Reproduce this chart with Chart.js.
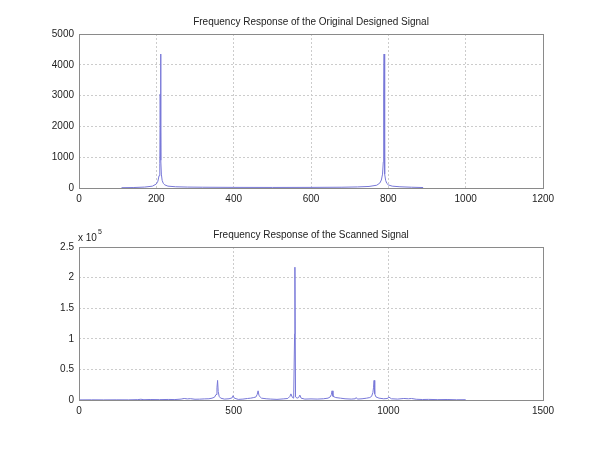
<!DOCTYPE html>
<html>
<head>
<meta charset="utf-8">
<script src="https://cdn.jsdelivr.net/npm/chart.js@4"></script>
<style>
  body { margin: 0; background: #fff; }
  canvas { position: absolute; left: 0; }
</style>
</head>
<body>
<canvas id="chart-original" width="600" height="215" style="top:0"></canvas>
<canvas id="chart-scanned" width="600" height="235" style="top:215px"></canvas>
<script>
// Original designed signal (frequency, magnitude)
const origFreq = [110, 140, 170, 190, 200, 204, 207, 209, 210, 211, 212, 213, 215, 218, 222, 230, 250, 280, 320, 400, 500, 600,
  680, 720, 750, 770, 778, 782, 785, 787, 788, 789, 790, 791, 793, 796, 800, 810, 830, 860, 890];
const origMag = [10, 15, 30, 60, 130, 220, 400, 800, 3050, 4350, 900, 450, 250, 150, 100, 60, 40, 30, 25, 20, 18, 20,
  25, 35, 50, 90, 160, 260, 450, 850, 3050, 4350, 900, 450, 250, 150, 100, 60, 40, 25, 15];

// Scanned signal (frequency, magnitude)
const scanFreq = [0, 40, 80, 120, 160, 190, 200, 210, 230, 260, 290, 310, 330, 340, 350, 360, 375, 390, 405, 420, 430, 438,
  443, 446, 448, 450, 453, 458, 470, 485, 495, 498, 502, 515, 530, 545, 555, 565, 572, 576, 579, 582, 590, 605, 620, 640,
  660, 675, 682, 685, 690, 694, 697, 698, 700, 705, 710, 714, 718, 730, 750, 770, 790, 805, 812, 816, 818, 821, 830, 845,
  860, 880, 893, 896, 900, 915, 930, 940, 946, 950, 952, 954, 956, 960, 970, 985, 998, 1001, 1010, 1030, 1050, 1065, 1075,
  1090, 1110, 1130, 1160, 1190, 1220, 1250];
const scanMag = [200, 300, 200, 300, 250, 600, 1200, 500, 800, 600, 900, 700, 1500, 2500, 1800, 2200, 1200, 1400, 1800, 2000, 3000, 4500,
  9000, 20000, 32000, 14000, 6000, 3000, 1500, 2000, 3500, 7000, 3000, 1000, 1500, 2500, 3000, 4000, 5000, 9000, 15000, 7000, 3000, 2000, 1500, 1000,
  1800, 2500, 6000, 10000, 4000, 3000, 108000, 217000, 5000, 3000, 4000, 8000, 3000, 1500, 1800, 1500, 2000, 3000, 5000, 9000, 15000, 6000, 4000, 3000,
  2000, 1500, 2000, 4000, 1500, 2000, 3000, 4000, 6000, 12000, 20000, 32000, 10000, 5000, 3000, 2000, 2500, 5000, 2000, 1500, 2500, 2000, 2500,
  1200, 800, 1000, 600, 800, 400, 500];

const origXTicks = [0, 200, 400, 600, 800, 1000, 1200];
const origYTicks = [0, 1000, 2000, 3000, 4000, 5000];
const scanXTicks = [0, 500, 1000, 1500];
const scanYTicks = [0, 50000, 100000, 150000, 200000, 250000];

const lineColor = '#7878d8';
const textColor = '#222';
const fontFamily = '"Liberation Sans", Arial, sans-serif';

function toPoints(xs, ys) {
  return xs.map((x, i) => ({ x: x, y: ys[i] }));
}

// grey box round the plot area, like matlab
const framePlugin = {
  id: 'frame',
  afterDraw(chart) {
    const a = chart.chartArea;
    const ctx = chart.ctx;
    ctx.save();
    ctx.strokeStyle = '#8a8a8a';
    ctx.lineWidth = 1;
    ctx.strokeRect(Math.round(a.left) + 0.5, Math.round(a.top) + 0.5, Math.round(a.right - a.left), Math.round(a.bottom - a.top));
    ctx.restore();
  }
};

// "x 10^5" exponent label
const exponentPlugin = {
  id: 'exponent',
  afterDraw(chart) {
    const ctx = chart.ctx;
    const a = chart.chartArea;
    ctx.save();
    ctx.fillStyle = textColor;
    ctx.font = '10px ' + fontFamily;
    ctx.textBaseline = 'middle';
    ctx.fillText('x 10', a.left - 1, a.top - 9);
    ctx.font = '7px ' + fontFamily;
    ctx.fillText('5', a.left + 19, a.top - 15);
    ctx.restore();
  }
};

function makeOptions(title, xTicks, yTicks, xHeight, titlePad, yLabel) {
  return {
    responsive: false,
    animation: false,
    layout: { padding: { left: 0, right: 57, top: 0, bottom: 0 } },
    plugins: {
      legend: { display: false },
      tooltip: { enabled: false },
      title: {
        display: true,
        text: title,
        fullSize: false,
        color: textColor,
        font: { family: fontFamily, size: 10, weight: 'normal' },
        padding: titlePad
      }
    },
    scales: {
      x: {
        type: 'linear',
        min: xTicks[0],
        max: xTicks[xTicks.length - 1],
        afterBuildTicks: s => { s.ticks = xTicks.map(v => ({ value: v })); },
        afterFit: s => { s.height = xHeight; },
        grid: { color: '#cccccc', drawTicks: false },
        border: { display: false, dash: [2, 2] },
        ticks: { color: textColor, padding: 5, maxRotation: 0, font: { family: fontFamily, size: 10 }, callback: v => String(v) }
      },
      y: {
        type: 'linear',
        min: yTicks[0],
        max: yTicks[yTicks.length - 1],
        afterBuildTicks: s => { s.ticks = yTicks.map(v => ({ value: v })); },
        afterFit: s => { s.width = 79; },
        grid: { color: '#cccccc', drawTicks: false },
        border: { display: false, dash: [2, 2] },
        ticks: { color: textColor, padding: 5, font: { family: fontFamily, size: 10 }, callback: yLabel }
      }
    }
  };
}

const datasetStyle = {
  showLine: true,
  borderColor: lineColor,
  borderWidth: 1,
  pointRadius: 0,
  tension: 0
};

new Chart(document.getElementById('chart-original'), {
  type: 'scatter',
  data: { datasets: [Object.assign({ data: toPoints(origFreq, origMag) }, datasetStyle)] },
  options: makeOptions('Frequency Response of the Original Designed Signal', origXTicks, origYTicks, 27,
    { top: 16, bottom: 6 }, v => String(v)),
  plugins: [framePlugin]
});

new Chart(document.getElementById('chart-scanned'), {
  type: 'scatter',
  data: { datasets: [Object.assign({ data: toPoints(scanFreq, scanMag) }, datasetStyle)] },
  options: makeOptions('Frequency Response of the Scanned Signal', scanXTicks, scanYTicks, 50,
    { top: 14, bottom: 6 }, v => String(v / 100000)),
  plugins: [framePlugin, exponentPlugin]
});
</script>
</body>
</html>
